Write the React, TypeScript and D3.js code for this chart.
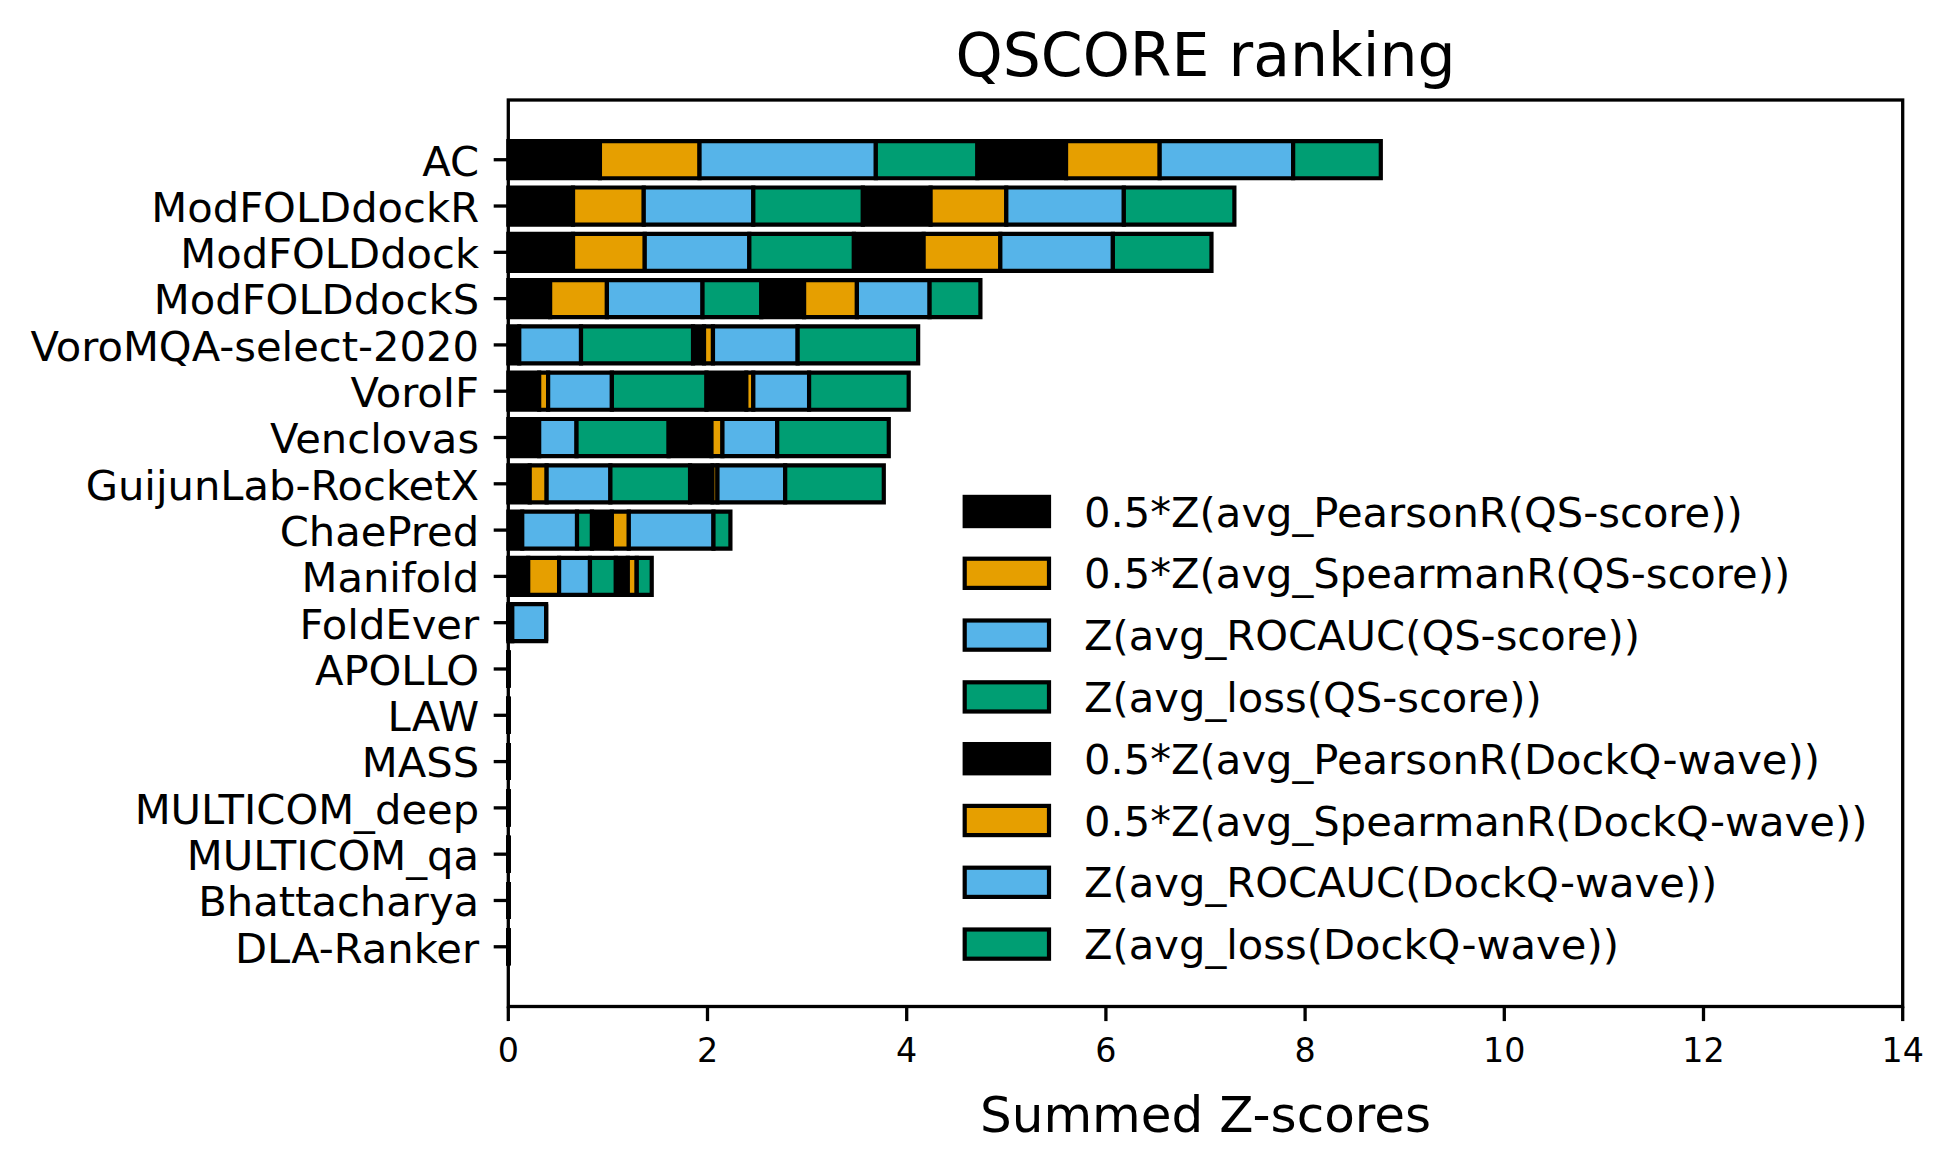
import React from "react";
import * as d3 from "d3";

const methods = [
  "AC", "ModFOLDdockR", "ModFOLDdock", "ModFOLDdockS", "VoroMQA-select-2020", "VoroIF",
  "Venclovas", "GuijunLab-RocketX", "ChaePred", "Manifold", "FoldEver", "APOLLO", "LAW",
  "MASS", "MULTICOM_deep", "MULTICOM_qa", "Bhattacharya", "DLA-Ranker",
];

const pearsonQS = [0.92, 0.65, 0.65, 0.42, 0.11, 0.31, 0.31, 0.215, 0.14, 0.20, 0, 0, 0, 0, 0, 0, 0, 0];
const spearmanQS = [1.00, 0.71, 0.72, 0.57, 0.0, 0.09, 0.0, 0.17, 0.0, 0.31, 0, 0, 0, 0, 0, 0, 0, 0];
const rocaucQS = [1.77, 1.10, 1.05, 0.96, 0.62, 0.64, 0.375, 0.64, 0.55, 0.31, 0.04, 0, 0, 0, 0, 0, 0, 0];
const lossQS = [1.02, 1.10, 1.05, 0.59, 1.125, 0.95, 0.925, 0.80, 0.15, 0.26, 0, 0, 0, 0, 0, 0, 0, 0];
const pearsonDQ = [0.89, 0.68, 0.70, 0.43, 0.11, 0.40, 0.43, 0.225, 0.20, 0.12, 0, 0, 0, 0, 0, 0, 0, 0];
const spearmanDQ = [0.94, 0.76, 0.77, 0.53, 0.09, 0.07, 0.11, 0.05, 0.17, 0.09, 0, 0, 0, 0, 0, 0, 0, 0];
const rocaucDQ = [1.34, 1.18, 1.13, 0.73, 0.85, 0.56, 0.55, 0.68, 0.85, 0.0, 0.34, 0, 0, 0, 0, 0, 0, 0];
const lossDQ = [0.88, 1.11, 0.99, 0.51, 1.21, 1.00, 1.12, 0.99, 0.17, 0.15, 0, 0, 0, 0, 0, 0, 0, 0];

const seriesLabels = [
  "0.5*Z(avg_PearsonR(QS-score))",
  "0.5*Z(avg_SpearmanR(QS-score))",
  "Z(avg_ROCAUC(QS-score))",
  "Z(avg_loss(QS-score))",
  "0.5*Z(avg_PearsonR(DockQ-wave))",
  "0.5*Z(avg_SpearmanR(DockQ-wave))",
  "Z(avg_ROCAUC(DockQ-wave))",
  "Z(avg_loss(DockQ-wave))",
];
const seriesColors = ["#000000", "#E69F00", "#56B4E9", "#009E73", "#000000", "#E69F00", "#56B4E9", "#009E73"];
const xTicks = [0, 2, 4, 6, 8, 10, 12, 14];

const seriesValues = [pearsonQS, spearmanQS, rocaucQS, lossQS, pearsonDQ, spearmanDQ, rocaucDQ, lossDQ];

const W = 1959;
const H = 1170;
const L = 508.3, R = 1902.7, T = 100, B = 1006.5;
const FONT = "DejaVu Sans, sans-serif";
const barH = 0.8;
const margin = 0.89 + 0.4;

export default function App() {
  const x = d3.scaleLinear().domain([0, 14]).range([L, R]);
  const y = d3.scaleLinear().domain([-margin, methods.length - 1 + margin]).range([T, B]);
  const unit = y(1) - y(0);

  const rects: JSX.Element[] = [];
  seriesValues.forEach((vals, s) => {
    vals.forEach((v, i) => {
      let left = 0;
      for (let k = 0; k < s; k++) left += seriesValues[k][i];
      const x0 = x(left);
      const x1 = x(left + v);
      const y0 = y(i) - (barH * unit) / 2;
      const h = barH * unit;
      const p = d3.path();
      p.moveTo(x0, y0);
      p.lineTo(x1, y0);
      p.lineTo(x1, y0 + h);
      p.lineTo(x0, y0 + h);
      p.closePath();
      rects.push(
        <path key={`${s}-${i}`} d={p.toString()} fill={seriesColors[s]} stroke="#000" strokeWidth={4.2} strokeLinejoin="miter" />
      );
    });
  });

  const legX = 964.7;
  const legY0 = 511.5;
  const legDy = 61.8;

  return (
    <svg width={W} height={H} style={{ position: "absolute", left: 0, top: 0, background: "#fff" }} fontFamily={FONT}>
      <rect x={0} y={0} width={W} height={H} fill="#fff" />
      {rects}
      <rect x={L} y={T} width={R - L} height={B - T} fill="none" stroke="#000" strokeWidth={3.3} />
      {methods.map((m, i) => (
        <g key={m}>
          <line x1={L - 14.6} x2={L} y1={y(i)} y2={y(i)} stroke="#000" strokeWidth={3.3} />
          <text x={L - 29.2} y={y(i)} dy="0.38em" textAnchor="end" fontSize={41.67} fill="#000">{m}</text>
        </g>
      ))}
      {xTicks.map((t) => (
        <g key={t}>
          <line x1={x(t)} x2={x(t)} y1={B} y2={B + 14.6} stroke="#000" strokeWidth={3.3} />
          <text x={x(t)} y={1062} textAnchor="middle" fontSize={33.33} fill="#000">{t}</text>
        </g>
      ))}
      <text x={(L + R) / 2} y={1132} textAnchor="middle" fontSize={50} fill="#000">Summed Z-scores</text>
      <text x={(L + R) / 2} y={76} textAnchor="middle" fontSize={60} fill="#000">QSCORE ranking</text>
      {seriesLabels.map((lab, k) => (
        <g key={lab}>
          <rect x={legX} y={legY0 + k * legDy - 14.6} width={84.3} height={29.2} fill={seriesColors[k]} stroke="#000" strokeWidth={4.2} />
          <text x={1084} y={legY0 + k * legDy} dy="0.36em" fontSize={41.67} fill="#000">{lab}</text>
        </g>
      ))}
    </svg>
  );
}
